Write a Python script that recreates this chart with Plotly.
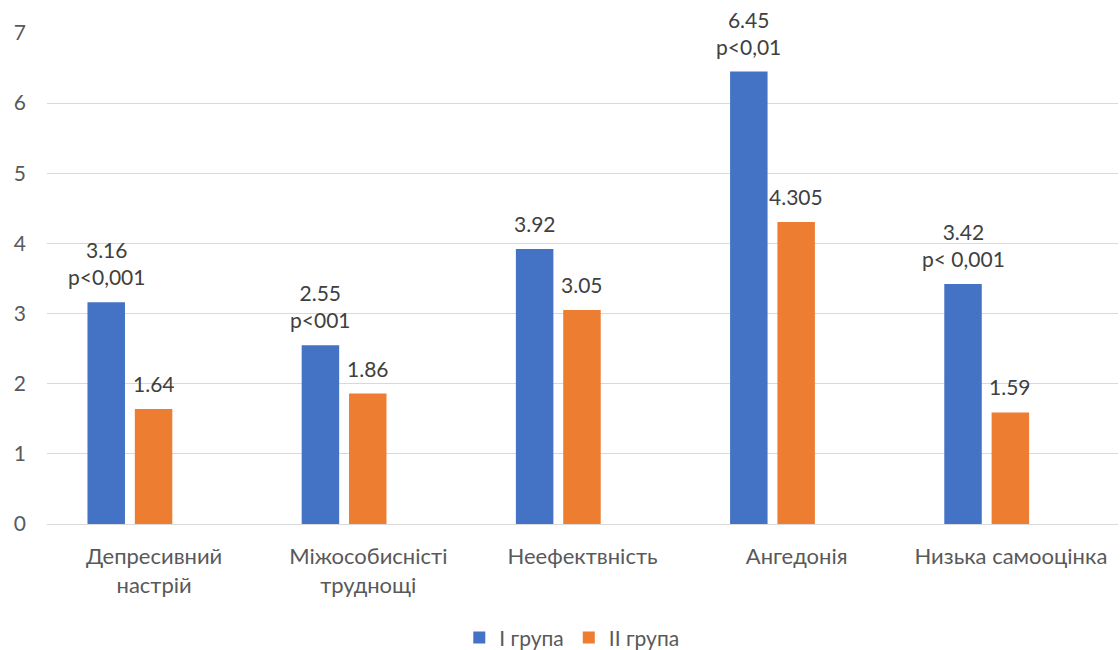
import plotly.graph_objects as go

# Scale scores by group
categories = ["Депресивний<br>настрій", "Міжособисністі<br>труднощі", "Неефектвність",
              "Ангедонія", "Низька самооцінка"]
group1 = [3.16, 2.55, 3.92, 6.45, 3.42]
group2 = [1.64, 1.86, 3.05, 4.305, 1.59]
p_notes = ["p&lt;0,001", "p&lt;001", "", "p&lt;0,01", "p&lt; 0,001"]
series_names = ["I група", "II група"]
y_ticks = [0, 1, 2, 3, 4, 5, 6, 7]

BLUE = "#4472C4"
ORANGE = "#ED7D31"
FONT = "Lato, 'Open Sans', sans-serif"

# Bar geometry in category units (third slot of each cluster left empty)
BAR_W = 0.175
OFFSETS = [-0.311, -0.090]

fig = go.Figure()
for name, vals, color, off in zip(series_names, [group1, group2], [BLUE, ORANGE], OFFSETS):
    fig.add_trace(go.Bar(
        x=list(range(len(categories))), y=vals, name=name,
        marker=dict(color=color, line=dict(width=0)),
        width=BAR_W, offset=off, hoverinfo="skip",
    ))

# Value labels above the bars
annotations = []
for i, (v1, v2, note) in enumerate(zip(group1, group2, p_notes)):
    for v, off, extra in [(v1, OFFSETS[0], note), (v2, OFFSETS[1], "")]:
        txt = f"{v:g}" + (f"<br>{extra}" if extra else "")
        annotations.append(dict(
            x=i + off + BAR_W / 2, y=v, xref="x", yref="y",
            text=txt, showarrow=False, yanchor="bottom", xanchor="center",
            yshift=11, font=dict(family=FONT, size=21, color="#404040"),
        ))

fig.update_layout(
    width=1120, height=650,
    margin=dict(l=47, r=2, t=33, b=126, autoexpand=False),
    paper_bgcolor="white", plot_bgcolor="white",
    barmode="overlay",
    font=dict(family=FONT, size=21, color="#595959"),
    annotations=annotations,
    showlegend=True,
    legend=dict(orientation="h", x=0.49, xanchor="center", y=-0.232, yanchor="middle",
                font=dict(family=FONT, size=21, color="#595959"),
                itemwidth=30, tracegroupgap=0),
    xaxis=dict(
        tickmode="array", tickvals=list(range(len(categories))), ticktext=categories,
        range=[-0.5, len(categories) - 0.5], showgrid=False, zeroline=False,
        showline=False, ticks="", ticklabelstandoff=17,
        tickfont=dict(family=FONT, size=22, color="#595959"),
    ),
    yaxis=dict(
        range=[0, 7], tickvals=y_ticks, showgrid=True, gridcolor="#d9d9d9", gridwidth=1.3,
        zeroline=True, zerolinecolor="#d9d9d9", zerolinewidth=1.3, showline=False,
        ticks="", ticklabelstandoff=20,
        tickfont=dict(family=FONT, size=21, color="#595959"),
    ),
)

fig.write_html("out.html")
